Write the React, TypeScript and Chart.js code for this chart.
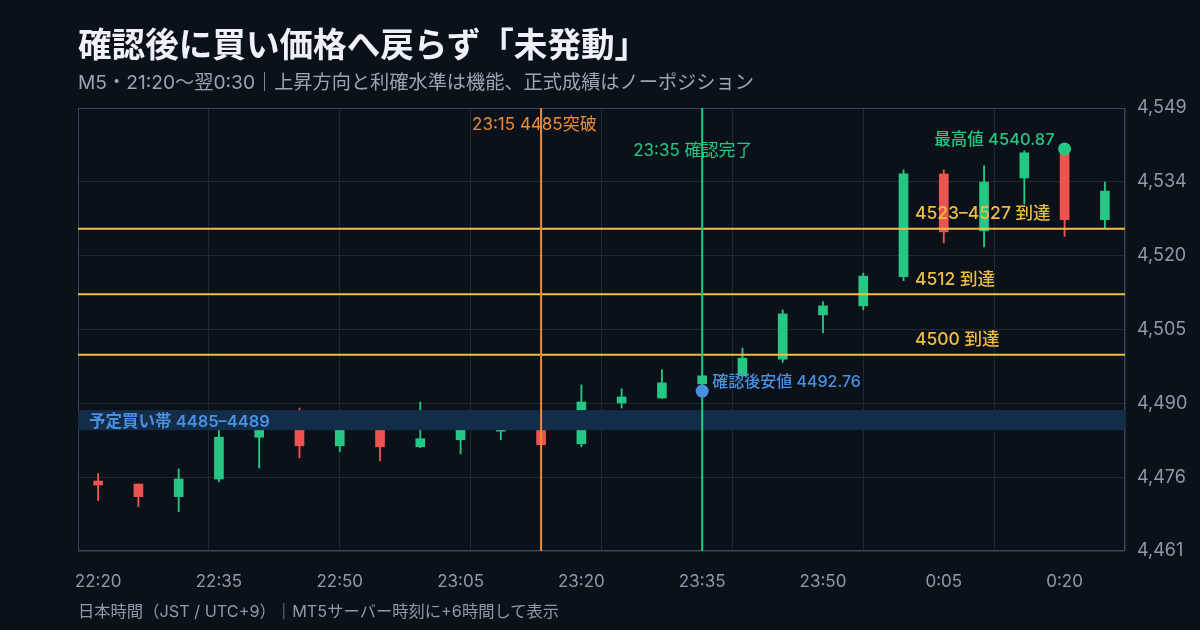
import React, { useEffect, useRef } from "react";
import { Chart, registerables, type Plugin } from "chart.js";

Chart.register(...registerables);

// M5 candles, JST
const times = [
  "22:20", "22:25", "22:30", "22:35", "22:40", "22:45", "22:50", "22:55",
  "23:00", "23:05", "23:10", "23:15", "23:20", "23:25", "23:30", "23:35",
  "23:40", "23:45", "23:50", "23:55", "0:00", "0:05", "0:10", "0:15",
  "0:20", "0:25",
];
const opens = [
  4474.9, 4474.3, 4471.8, 4475.3, 4483.6, 4487.0, 4481.9, 4487.5,
  4481.7, 4483.1, 4484.8, 4487.8, 4482.3, 4490.4, 4491.4, 4494.2,
  4495.8, 4499.1, 4507.9, 4509.7, 4515.5, 4535.9, 4524.6, 4535.1,
  4539.9, 4526.8,
];
const highs = [
  4476.4, 4474.3, 4477.3, 4485.9, 4487.2, 4489.4, 4487.4, 4488.2,
  4490.6, 4487.6, 4486.6, 4488.5, 4494.0, 4493.2, 4497.0, 4496.0,
  4501.3, 4508.9, 4510.5, 4516.2, 4536.7, 4536.7, 4537.5, 4540.5,
  4540.87, 4534.3,
];
const lows = [
  4471.0, 4469.8, 4468.8, 4474.7, 4477.5, 4479.5, 4480.7, 4478.9,
  4481.5, 4480.3, 4483.1, 4482.0, 4481.7, 4489.4, 4491.3, 4492.76,
  4495.6, 4498.5, 4504.3, 4508.9, 4514.7, 4522.2, 4521.4, 4529.9,
  4523.5, 4525.2,
];
const closes = [
  4474.1, 4471.8, 4475.3, 4483.6, 4486.1, 4481.9, 4486.2, 4481.7,
  4483.3, 4486.3, 4485.8, 4482.1, 4490.6, 4491.6, 4494.4, 4495.8,
  4499.3, 4508.1, 4509.7, 4515.6, 4535.9, 4524.4, 4534.3, 4540.1,
  4526.8, 4532.5,
];

const yTicks = [4461, 4475.67, 4490.33, 4505, 4519.67, 4534.33, 4549];
const buyZone = [4485, 4489];
const targetLevels = [4500, 4512, 4525];
const targetLabels = ["4500 到達", "4512 到達", "4523–4527 到達"];
const breakoutTime = "23:15";
const confirmTime = "23:35";
const confirmLow = { time: "23:35", value: 4492.76 };
const sessionHigh = { time: "0:20", value: 4540.87 };

const BG = "#0b1119";
const UP = "#26c784";
const DOWN = "#ef5350";
const ORANGE = "#f28a35";
const YELLOW = "#efbc45";
const BLUE = "#4a90e2";
const BAND = "#132c48";
const GRID = "#1f2934";
const FRAME = "#3a4757";
const TICK = "#8f9aa6";
const FONT = "Inter, 'Noto Sans CJK JP', sans-serif";

const candleColors = closes.map((c, i) => (c >= opens[i] ? UP : DOWN));

const overlayPlugin: Plugin<"bar"> = {
  id: "overlay",
  beforeDatasetsDraw(chart) {
    const { ctx, chartArea: a } = chart;
    ctx.save();
    ctx.strokeStyle = FRAME;
    ctx.lineWidth = 1;
    ctx.strokeRect(a.left + 0.5, a.top + 0.5, a.width - 1, a.height - 1);
    ctx.restore();
  },
  afterDatasetDraw(chart, args) {
    if (args.index !== 1) return;
    const { ctx, chartArea: a } = chart;
    const x = chart.scales.x;
    const y = chart.scales.y;
    ctx.save();
    // planned buy zone (covers candles)
    const zTop = y.getPixelForValue(buyZone[1]);
    const zBot = y.getPixelForValue(buyZone[0]);
    ctx.fillStyle = BAND;
    ctx.fillRect(a.left, zTop, a.width, zBot - zTop);
    // target levels
    ctx.strokeStyle = YELLOW;
    ctx.lineWidth = 2;
    targetLevels.forEach((v) => {
      const py = y.getPixelForValue(v);
      ctx.beginPath();
      ctx.moveTo(a.left, py);
      ctx.lineTo(a.right, py);
      ctx.stroke();
    });
    // event lines
    const vline = (t: string, color: string) => {
      const px = x.getPixelForValue(times.indexOf(t));
      ctx.strokeStyle = color;
      ctx.beginPath();
      ctx.moveTo(px, a.top);
      ctx.lineTo(px, a.bottom);
      ctx.stroke();
    };
    vline(breakoutTime, ORANGE);
    vline(confirmTime, UP);
    ctx.restore();
  },
  afterDraw(chart) {
    const { ctx, chartArea: a } = chart;
    const x = chart.scales.x;
    const y = chart.scales.y;
    ctx.save();
    ctx.textBaseline = "middle";

    const bx = x.getPixelForValue(times.indexOf(breakoutTime));
    ctx.font = `17px ${FONT}`;
    ctx.fillStyle = ORANGE;
    ctx.textAlign = "left";
    ctx.fillText("23:15 4485突破", bx - 69, a.top + 17);

    const cx = x.getPixelForValue(times.indexOf(confirmTime));
    ctx.fillStyle = UP;
    ctx.fillText("23:35 確認完了", cx - 69, a.top + 43);

    const hx = x.getPixelForValue(times.indexOf(sessionHigh.time));
    const hy = y.getPixelForValue(sessionHigh.value);
    ctx.font = `500 16.5px ${FONT}`;
    ctx.textAlign = "right";
    ctx.fillText("最高値 4540.87", hx - 10, hy - 9);

    const lx = x.getPixelForValue(times.indexOf(confirmLow.time));
    const ly = y.getPixelForValue(confirmLow.value);
    ctx.font = `500 16px ${FONT}`;
    ctx.fillStyle = BLUE;
    ctx.textAlign = "left";
    ctx.fillText("確認後安値 4492.76", lx + 10, ly - 9);

    const zMid = (y.getPixelForValue(buyZone[0]) + y.getPixelForValue(buyZone[1])) / 2;
    ctx.font = `600 16.5px ${FONT}`;
    ctx.fillText("予定買い帯 4485–4489", a.left + 11, zMid + 2);

    ctx.font = `500 17.5px ${FONT}`;
    ctx.fillStyle = YELLOW;
    targetLevels.forEach((v, i) => {
      ctx.fillText(targetLabels[i], a.right - 210, y.getPixelForValue(v) - 15);
    });
    ctx.restore();
  },
};

export default function App() {
  const canvasRef = useRef<HTMLCanvasElement>(null);

  useEffect(() => {
    document.body.style.margin = "0";
    document.body.style.background = BG;
    if (!canvasRef.current) return;

    const chart = new Chart(canvasRef.current, {
      type: "bar",
      data: {
        labels: times,
        datasets: [
          {
            label: "wick",
            data: times.map((_, i) => [lows[i], highs[i]]) as any,
            backgroundColor: candleColors,
            barThickness: 1.2,
            grouped: false,
            order: 3,
          },
          {
            label: "body",
            data: times.map((_, i) => [opens[i], closes[i]]) as any,
            backgroundColor: candleColors,
            barThickness: 9,
            grouped: false,
            order: 2,
          },
          {
            type: "line",
            label: "low",
            data: [{ x: confirmLow.time, y: confirmLow.value }] as any,
            showLine: false,
            pointRadius: 6.5,
            pointBackgroundColor: BLUE,
            pointBorderWidth: 0,
            order: 1,
          } as any,
          {
            type: "line",
            label: "high",
            data: [{ x: sessionHigh.time, y: sessionHigh.value }] as any,
            showLine: false,
            pointRadius: 6.5,
            pointBackgroundColor: UP,
            pointBorderWidth: 0,
            order: 1,
          } as any,
        ],
      },
      options: {
        responsive: false,
        animation: false,
        events: [],
        layout: { padding: { left: 78, top: 108, right: 0, bottom: 0 } },
        plugins: {
          legend: { display: false },
          tooltip: { enabled: false },
        },
        scales: {
          x: {
            type: "category",
            offset: true,
            grid: { display: false },
            border: { display: false },
            ticks: {
              autoSkip: false,
              maxRotation: 0,
              padding: 13,
              color: TICK,
              font: { family: FONT, size: 17 },
              callback: (_v, i) => (i % 3 === 0 ? times[i] : ""),
            },
            afterFit: (s) => {
              s.height = 79;
            },
          },
          xg: {
            type: "linear",
            axis: "x",
            position: "top",
            min: 0,
            max: 8,
            offset: false,
            ticks: { display: false, stepSize: 1 },
            grid: { color: GRID, drawTicks: false, offset: false },
            border: { display: false },
            afterFit: (s) => {
              s.height = 0;
            },
          },
          y: {
            type: "linear",
            position: "right",
            min: 4461,
            max: 4549,
            grid: { color: GRID, drawTicks: false },
            border: { display: false },
            ticks: {
              padding: 12,
              color: TICK,
              font: { family: FONT, size: 18 },
              callback: (v) => Math.round(Number(v)).toLocaleString("en-US"),
            },
            afterBuildTicks: (s) => {
              s.ticks = yTicks.map((v) => ({ value: v }));
            },
            afterFit: (s) => {
              s.width = 75;
            },
          },
        },
      },
      plugins: [overlayPlugin],
    });

    return () => chart.destroy();
  }, []);

  return (
    <div
      style={{
        position: "relative",
        width: 1200,
        height: 630,
        background: BG,
        overflow: "hidden",
        fontFamily: FONT,
      }}
    >
      <canvas
        ref={canvasRef}
        width={1200}
        height={630}
        style={{ position: "absolute", left: 0, top: 0 }}
      />
      <div
        style={{
          position: "absolute",
          left: 78,
          top: 28,
          fontSize: 33.6,
          lineHeight: "34px",
          fontWeight: 700,
          color: "#eef2f7",
          whiteSpace: "nowrap",
        }}
      >
        確認後に買い価格へ戻らず「未発動」
      </div>
      <div
        style={{
          position: "absolute",
          left: 78,
          top: 72,
          fontSize: 19.2,
          lineHeight: "20px",
          color: "#9aa5b1",
          whiteSpace: "nowrap",
        }}
      >
        M5・21:20〜翌0:30｜上昇方向と利確水準は機能、正式成績はノーポジション
      </div>
      <div
        style={{
          position: "absolute",
          left: 78,
          top: 602,
          fontSize: 16.3,
          lineHeight: "18px",
          color: "#8f9aa6",
          whiteSpace: "nowrap",
        }}
      >
        日本時間（JST / UTC+9）｜MT5サーバー時刻に+6時間して表示
      </div>
    </div>
  );
}
